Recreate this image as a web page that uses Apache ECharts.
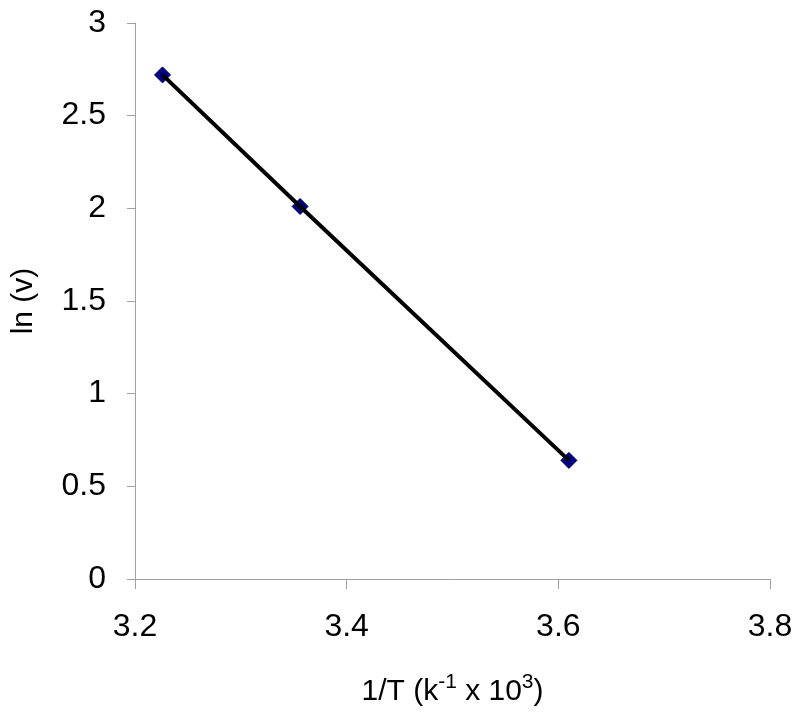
<!DOCTYPE html>
<html>
<head>
<meta charset="utf-8">
<script src="https://cdn.jsdelivr.net/npm/echarts@6/dist/echarts.min.js"></script>
<style>html,body{margin:0;padding:0;background:#fff}#c{width:800px;height:720px}</style>
</head>
<body>
<div id="c"></div>
<script>
var invT = [3.226, 3.356, 3.610];
var lnV = [2.72, 2.01, 0.64];
var xTicks = [3.2, 3.4, 3.6, 3.8];
var yTicks = [0, 0.5, 1, 1.5, 2, 2.5, 3];

var pts = invT.map(function (x, i) { return [x, lnV[i]]; });
var chart = echarts.init(document.getElementById('c'), null, {renderer: 'canvas'});
var font = 'Liberation Sans, Arial, sans-serif';
chart.setOption({
  animation: false,
  backgroundColor: '#fff',
  grid: {left: 135, right: 30, top: 23, bottom: 141},
  xAxis: {
    type: 'value', min: xTicks[0], max: xTicks[xTicks.length - 1], interval: 0.2,
    axisLine: {show: true, lineStyle: {color: '#a0a0a0', width: 1}},
    axisTick: {show: true, length: 10, lineStyle: {color: '#a0a0a0'}},
    splitLine: {show: false},
    axisLabel: {color: '#000', fontSize: 32, fontFamily: font, margin: 32,
      formatter: function (v) { return v.toFixed(1); }},
    name: '1/T (k{sup|-1} x 10{sup|3})',
    nameLocation: 'middle', nameGap: 93,
    nameTextStyle: {color: '#000', fontSize: 30, lineHeight: 40, fontFamily: font,
      rich: {sup: {fontSize: 21, fontFamily: font, color: '#000', verticalAlign: 'top'}}}
  },
  yAxis: {
    type: 'value', min: yTicks[0], max: yTicks[yTicks.length - 1], interval: 0.5,
    axisLine: {show: true, lineStyle: {color: '#a0a0a0', width: 1}},
    axisTick: {show: true, length: 8, lineStyle: {color: '#a0a0a0'}},
    splitLine: {show: false},
    axisLabel: {color: '#000', fontSize: 32, fontFamily: font, margin: 29},
    name: 'ln (v)', nameLocation: 'middle', nameGap: 96, nameRotate: 90,
    nameTextStyle: {color: '#000', fontSize: 30, fontFamily: font}
  },
  series: [
    {type: 'scatter', data: pts, symbol: 'diamond', symbolSize: [16, 16], z: 2,
      itemStyle: {color: '#000080', borderColor: '#000060', borderWidth: 1, opacity: 1}},
    {type: 'line', data: pts, symbol: 'none', z: 3,
      lineStyle: {color: '#000', width: 4}}
  ]
});
</script>
</body>
</html>
